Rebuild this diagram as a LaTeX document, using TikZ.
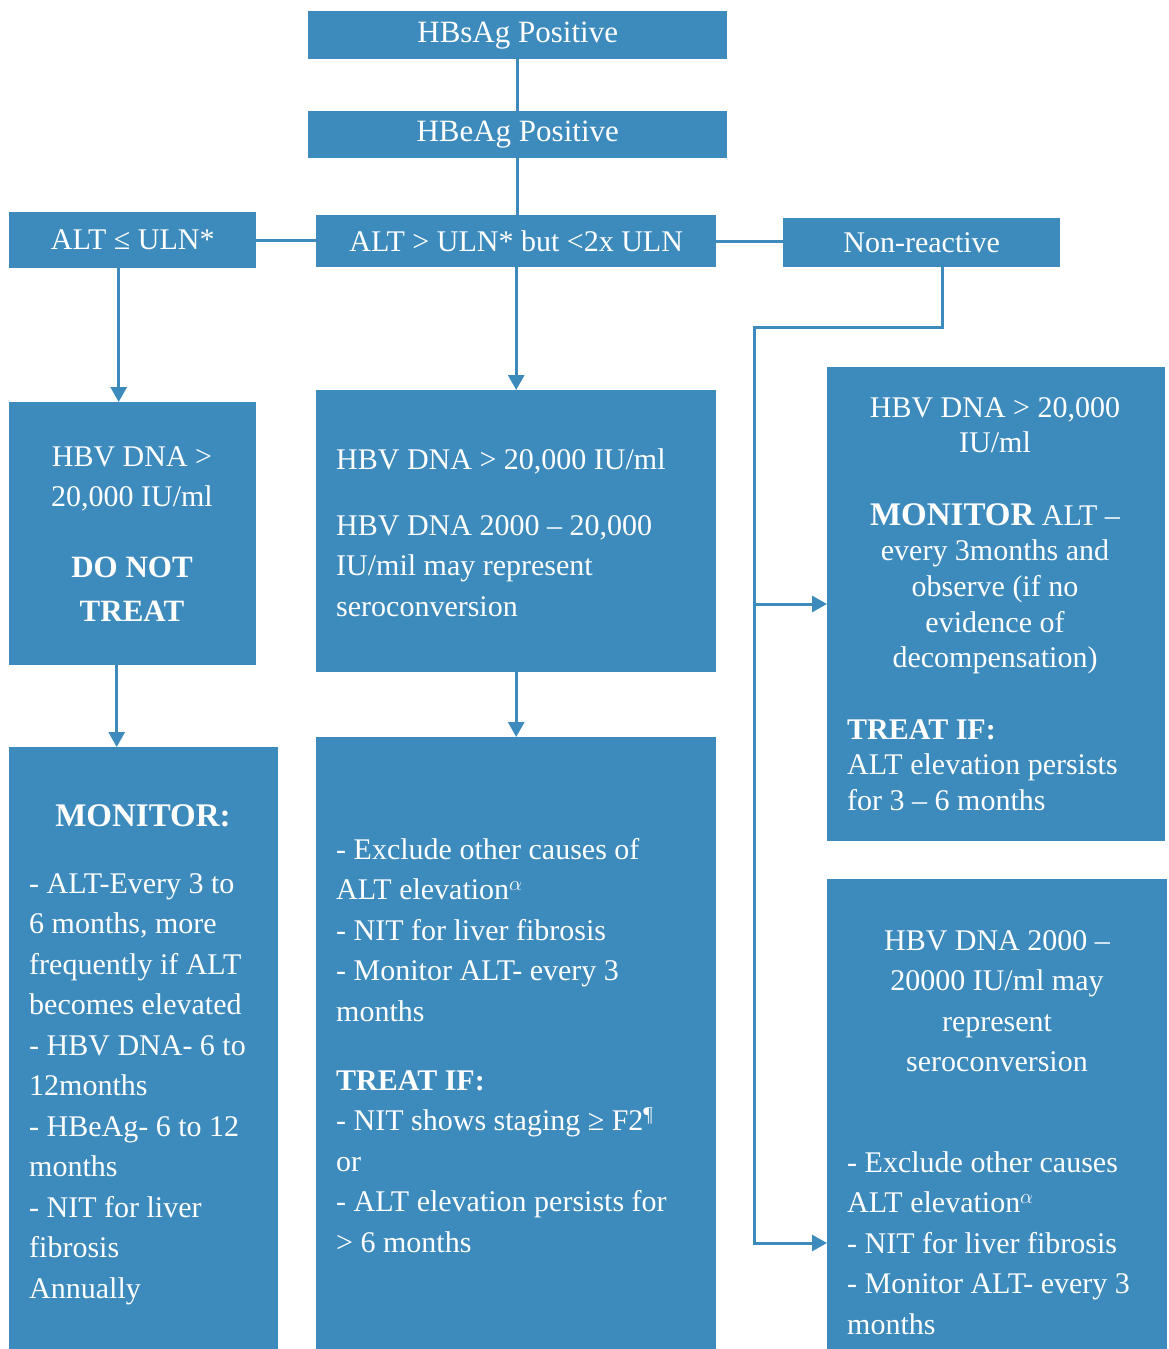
\documentclass[tikz,border=0pt]{standalone}
\usepackage{fontspec}
\setmainfont{Liberation Serif}
\usetikzlibrary{arrows.meta}
\definecolor{boxblue}{RGB}{61,139,189}

\begin{document}
\begin{tikzpicture}[x=1pt,y=-1pt,
  box/.style={fill=boxblue,inner sep=0pt,anchor=north west,text=white,font=\fontsize{30}{40.5}\selectfont},
  txt/.style={text=white,inner sep=0pt,font=\fontsize{30}{40.5}\selectfont},
  tight/.style={txt,font=\fontsize{30}{35.7}\selectfont},
  head/.style={txt,font=\fontsize{33}{44}\selectfont\bfseries},
  link/.style={draw=boxblue,line width=3pt},
  arr/.style={link,-{Triangle[width=16pt,length=15pt]}}]
\useasboundingbox (0,0) rectangle (1169,1349);
% top of the chart
\node [box,minimum width=419pt,minimum height=48pt,font=\fontsize{31}{40.5}\selectfont] (hbs) at (308,11) {HBsAg Positive};
\node [box,minimum width=419pt,minimum height=47pt,font=\fontsize{31}{40.5}\selectfont] (hbe) at (308,111) {HBeAg Positive};
\node [box,minimum width=247pt,minimum height=56pt] (altlow) at (9,212) {ALT ≤ ULN*};
\node [box,minimum width=400pt,minimum height=52pt] (altmid) at (316,215) {ALT > ULN* but <2x ULN};
\node [box,minimum width=277pt,minimum height=49pt] (nonr) at (783,218) {Non-reactive};
% boxes below
\node [box,minimum width=247pt,minimum height=263pt] (dnalow) at (9,402) {};
\node [box,minimum width=400pt,minimum height=282pt] (dnamid) at (316,390) {};
\node [box,minimum width=338pt,minimum height=474pt] (dnahi) at (827,367) {};
\node [box,minimum width=269pt,minimum height=602pt] (monlow) at (9,747) {};
\node [box,minimum width=400pt,minimum height=612pt] (monmid) at (316,737) {};
\node [box,minimum width=340pt,minimum height=470pt] (monhi) at (827,879) {};

% texts of the boxes
\node [txt,align=center,anchor=north] (t1) at (132,446) {HBV DNA >\\20,000 IU/ml};
\node [head,font=\fontsize{31}{44}\selectfont\bfseries,align=center,anchor=north] (t2) at (132,557) {DO NOT\\TREAT};
\node [txt,anchor=base west] (t3) at (336,469) {HBV DNA > 20,000 IU/ml};
\node [txt,align=left,anchor=north west] (t4) at (336,515) {HBV DNA 2000 – 20,000\\IU/mil may represent\\seroconversion};
\node [tight,align=center,anchor=north] (t5) at (995,397) {HBV DNA > 20,000\\IU/ml};
\node [tight,align=center,anchor=north] (t6) at (995,503) {{\fontsize{33}{35.7}\selectfont\bfseries MONITOR} ALT –\\every 3months and\\observe (if no\\evidence of\\decompensation)};
\node [tight,align=left,anchor=north west] (t7) at (847,719) {\textbf{TREAT IF:}\\ALT elevation persists\\for 3 – 6 months};
\node [head,anchor=base] (t8) at (143,826) {MONITOR:};
\node [txt,align=left,anchor=north west] (t9) at (29,873) {- ALT-Every 3 to\\6 months, more\\frequently if ALT\\becomes elevated\\- HBV DNA- 6 to\\12months\\- HBeAg- 6 to 12\\months\\- NIT for liver\\fibrosis\\Annually};
\node [txt,align=left,anchor=north west] (t10) at (336,838) {- Exclude other causes of\\ALT elevation$^{\alpha}$\\- NIT for liver fibrosis\\- Monitor ALT- every 3\\months};
\node [txt,align=left,anchor=north west] (t11) at (336,1070) {\textbf{TREAT IF:}\\- NIT shows staging ≥ F2\textsuperscript{¶}\\or\\- ALT elevation persists for\\> 6 months};
\node [txt,align=center,anchor=north] (t12) at (997,930) {HBV DNA 2000 –\\20000 IU/ml may\\represent\\seroconversion};
\node [txt,align=left,anchor=north west] (t13) at (847,1151) {- Exclude other causes\\ALT elevation$^{\alpha}$\\- NIT for liver fibrosis\\- Monitor ALT- every 3\\months};

% connectors
\draw [link] (hbs.south) -- (hbs.south |- hbe.north);
\draw [link] (hbe.south) -- (hbe.south |- altmid.north);
\draw [link] (altlow.east) -- (altlow.east -| altmid.west);
\draw [link] (altmid.east) -- (altmid.east -| nonr.west);
\draw [arr] ([xshift=-14pt]altlow.south) -- ([xshift=-14pt]altlow.south |- dnalow.north);
\draw [arr] (altmid.south) -- (altmid.south |- dnamid.north);
\draw [arr] ([xshift=-16pt]dnalow.south) -- ([xshift=-16pt]dnalow.south |- monlow.north);
\draw [arr] (dnamid.south) -- (dnamid.south |- monmid.north);
\coordinate (trunk) at (754,327);
\coordinate (fork) at (754,604);
\coordinate (foot) at (754,1243);
\draw [arr] ([xshift=20.5pt]nonr.south) |- (trunk) -- (foot) -- (foot -| monhi.west);
\draw [arr] (fork) -- (fork -| dnahi.west);
\end{tikzpicture}
\end{document}
